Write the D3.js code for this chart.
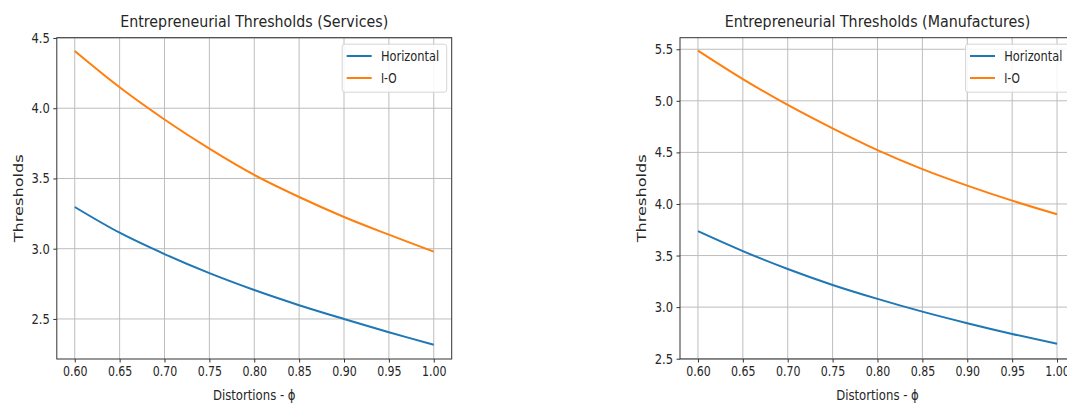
<!DOCTYPE html>
<html>
<head>
<meta charset="utf-8">
<script src="https://cdn.jsdelivr.net/npm/d3@7"></script>
<style>
  html, body { margin: 0; padding: 0; background: #fff; }
  svg { display: block; }
  text { font-family: "DejaVu Sans", sans-serif; fill: #262626; }
</style>
</head>
<body>
<svg id="fig" width="1067" height="403"></svg>
<script>
// Distortion parameter values (x axis)
const phi = [0.60, 0.65, 0.70, 0.75, 0.80, 0.85, 0.90, 0.95, 1.00];

// Entrepreneurial thresholds, services sector
const servicesHorizontal = [3.297, 3.114, 2.962, 2.826, 2.706, 2.598, 2.500, 2.406, 2.316];
const servicesIO         = [4.407, 4.149, 3.920, 3.712, 3.525, 3.368, 3.226, 3.100, 2.979];

// Entrepreneurial thresholds, manufacturing sector
const manufHorizontal = [3.736, 3.543, 3.370, 3.215, 3.080, 2.956, 2.844, 2.740, 2.645];
const manufIO         = [5.487, 5.211, 4.960, 4.733, 4.522, 4.338, 4.178, 4.032, 3.900];

// Tick values
const xTicks = [0.60, 0.65, 0.70, 0.75, 0.80, 0.85, 0.90, 0.95, 1.00];
const servicesYTicks = [2.5, 3.0, 3.5, 4.0, 4.5];
const manufYTicks = [2.5, 3.0, 3.5, 4.0, 4.5, 5.0, 5.5];

// Axis limits
const xLimits = [0.58, 1.02];
const servicesYLimits = [2.215, 4.502];
const manufYLimits = [2.497, 5.612];

const seriesNames = ["Horizontal", "I-O"];
const seriesColors = ["#1f77b4", "#ff7f0e"];

const svg = d3.select("#fig");

function drawPanel(opts) {
  const { left, right, top, bottom, title, yTicks, yLimits, series } = opts;
  const g = svg.append("g");

  const x = d3.scaleLinear().domain(xLimits).range([left, right]);
  const y = d3.scaleLinear().domain(yLimits).range([bottom, top]);

  // grid
  g.append("g").selectAll("line").data(xTicks).join("line")
    .attr("x1", d => x(d)).attr("x2", d => x(d))
    .attr("y1", top).attr("y2", bottom)
    .attr("stroke", "#bdbdbd").attr("stroke-width", 1);
  g.append("g").selectAll("line").data(yTicks).join("line")
    .attr("x1", left).attr("x2", right)
    .attr("y1", d => y(d)).attr("y2", d => y(d))
    .attr("stroke", "#bdbdbd").attr("stroke-width", 1);

  // series
  const line = d3.line()
    .x((d, i) => x(phi[i]))
    .y(d => y(d))
    .curve(d3.curveCatmullRom.alpha(0.5));
  series.forEach((vals, k) => {
    g.append("path")
      .attr("d", line(vals))
      .attr("fill", "none")
      .attr("stroke", seriesColors[k])
      .attr("stroke-width", 2);
  });

  // axes
  const xAxis = d3.axisBottom(x).tickValues(xTicks).tickFormat(d3.format(".2f"))
    .tickSize(3.5).tickPadding(4);
  const gx = g.append("g").attr("transform", `translate(0,${bottom})`).call(xAxis);
  gx.select(".domain").remove();
  gx.selectAll(".tick line").attr("stroke", "#333");
  gx.selectAll(".tick text")
    .attr("font-family", "DejaVu Sans")
    .attr("font-size", 14)
    .attr("fill", "#262626")
    .attr("textLength", 24.5)
    .attr("lengthAdjust", "spacingAndGlyphs");

  const yAxis = d3.axisLeft(y).tickValues(yTicks).tickFormat(d3.format(".1f"))
    .tickSize(3.5).tickPadding(3.5);
  const gy = g.append("g").attr("transform", `translate(${left},0)`).call(yAxis);
  gy.select(".domain").remove();
  gy.selectAll(".tick line").attr("stroke", "#333");
  gy.selectAll(".tick text")
    .attr("font-family", "DejaVu Sans")
    .attr("font-size", 14)
    .attr("fill", "#262626")
    .attr("textLength", 18.3)
    .attr("lengthAdjust", "spacingAndGlyphs");

  // frame
  g.append("rect")
    .attr("x", left).attr("y", top)
    .attr("width", right - left).attr("height", bottom - top)
    .attr("fill", "none").attr("stroke", "#333").attr("stroke-width", 1);

  // title
  g.append("text")
    .attr("x", (left + right) / 2).attr("y", 26.5)
    .attr("text-anchor", "middle")
    .attr("font-size", 15.5)
    .attr("textLength", opts.titleLength)
    .attr("lengthAdjust", "spacingAndGlyphs")
    .text(title);

  // axis labels
  g.append("text")
    .attr("x", (left + right) / 2).attr("y", 399.5)
    .attr("text-anchor", "middle")
    .attr("font-size", 14.5)
    .attr("textLength", 82.7)
    .attr("lengthAdjust", "spacingAndGlyphs")
    .text("Distortions - ϕ");

  g.append("text")
    .attr("transform", `translate(${left - 34},${(top + bottom) / 2}) rotate(-90)`)
    .attr("text-anchor", "middle")
    .attr("font-size", 13)
    .attr("textLength", 88)
    .attr("lengthAdjust", "spacingAndGlyphs")
    .text("Thresholds");

  // legend
  const lg = g.append("g").attr("transform", `translate(${right - 109.5},${top + 6.5})`);
  lg.append("rect")
    .attr("x", 0).attr("y", 0).attr("width", 104.5).attr("height", 48)
    .attr("rx", 2.5)
    .attr("fill", "#fff").attr("fill-opacity", 0.85)
    .attr("stroke", "#d6d6d6").attr("stroke-width", 1);
  const legendLengths = [58.3, 15.7];
  seriesNames.forEach((name, k) => {
    const yy = 11.8 + k * 22;
    lg.append("line")
      .attr("x1", 4.5).attr("x2", 29.5)
      .attr("y1", yy).attr("y2", yy)
      .attr("stroke", seriesColors[k]).attr("stroke-width", 2);
    lg.append("text")
      .attr("x", 38.7).attr("y", yy)
      .attr("dy", "0.36em")
      .attr("font-size", 14.5)
      .attr("textLength", legendLengths[k])
      .attr("lengthAdjust", "spacingAndGlyphs")
      .text(name);
  });
}

drawPanel({
  left: 56.8, right: 451.7, top: 37.7, bottom: 359,
  title: "Entrepreneurial Thresholds (Services)",
  titleLength: 268,
  yTicks: servicesYTicks, yLimits: servicesYLimits,
  series: [servicesHorizontal, servicesIO]
});

drawPanel({
  left: 680, right: 1075, top: 37.7, bottom: 359,
  title: "Entrepreneurial Thresholds (Manufactures)",
  titleLength: 305.7,
  yTicks: manufYTicks, yLimits: manufYLimits,
  series: [manufHorizontal, manufIO]
});
</script>
</body>
</html>
